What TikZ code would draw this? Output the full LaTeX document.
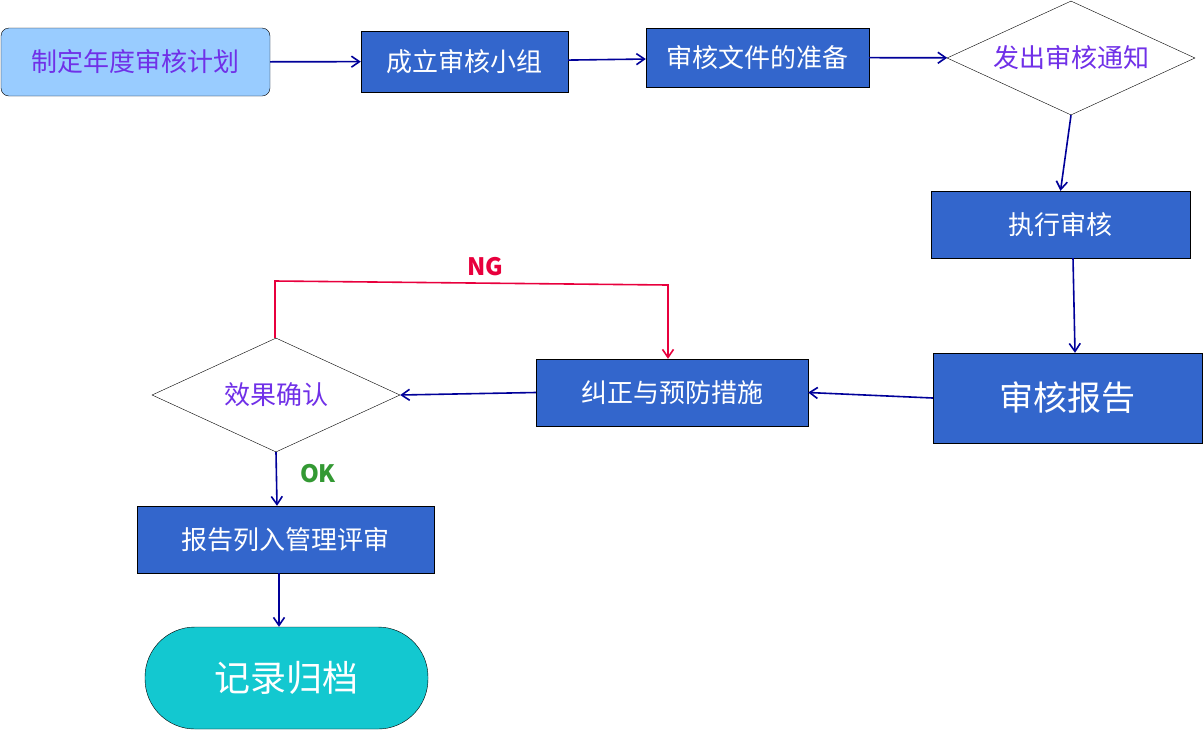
\documentclass[tikz,border=0pt]{standalone}
\usepackage{fontspec}
\setmainfont{Noto Sans CJK SC}
\usetikzlibrary{shapes.geometric,arrows.meta}
\definecolor{bbox}{HTML}{3366CC}
\definecolor{lblue}{HTML}{99CCFF}
\definecolor{purp}{HTML}{7030E8}
\definecolor{arr}{HTML}{000099}
\definecolor{ngred}{HTML}{E8003D}
\definecolor{okg}{HTML}{339933}
\definecolor{cyan2}{HTML}{13C8D0}
\begin{document}
\begin{tikzpicture}[x=1pt,y=-1pt,
 box/.style={draw=black,fill=bbox,text=white,inner sep=0,font=\fontsize{26}{30}\selectfont},
 dia/.style={diamond,draw=black,fill=white,aspect=2.17,inner sep=0,text=purp,font=\fontsize{26}{30}\selectfont},
 ar/.style={draw=arr,line width=1.6pt,-{Straight Barb[length=8pt,width=11pt]}}]
\useasboundingbox (0,0) rectangle (1204,732);
\node[draw=black,fill=lblue,rounded corners=8pt,text=purp,minimum width=269pt,minimum height=68pt,inner sep=0,font=\fontsize{26}{30}\selectfont] (a) at (135.5,62) {制定年度审核计划};
\node[box,minimum width=207pt,minimum height=61pt] (b) at (464.5,61.5) {成立审核小组};
\node[box,minimum width=223pt,minimum height=59pt] (c) at (757.5,57.5) {审核文件的准备};
\node[dia,minimum width=248pt,minimum height=114pt] (d) at (1071,58) {发出审核通知};
\node[box,minimum width=259pt,minimum height=67pt] (e) at (1060.5,224.5) {执行审核};
\node[box,minimum width=269pt,minimum height=90pt,font=\fontsize{34}{40}\selectfont] (f) at (1067.5,398) {审核报告};
\node[box,minimum width=272pt,minimum height=67pt] (g) at (672,392.5) {纠正与预防措施};
\node[dia,minimum width=248pt,minimum height=114pt] (h) at (276,395) {效果确认};
\node[box,minimum width=297pt,minimum height=67pt] (i) at (285.5,539.5) {报告列入管理评审};
\node[draw=black,fill=cyan2,text=white,rounded corners=50pt,minimum width=283pt,minimum height=102pt,inner sep=0,font=\fontsize{36}{42}\selectfont] (j) at (286.5,678) {记录归档};
\draw[ar] (a) -- (b);
\draw[ar] (b) -- (c);
\draw[ar] (c) -- (d);
\draw[ar] (d.south) -- (e.north);
\draw[ar] (e.south -| 1073,0) -- (f.north -| 1075,0);
\draw[ar] (f.west) -- (g.east);
\draw[ar] (g.west) -- (h.east);
\draw[ar] (h.south) -- (i.north -| 277,0);
\draw[ar] (i.south -| 279,0) -- (j.north -| 279,0);
\coordinate (n1) at (275,281);
\coordinate (n2) at (668,285);
\draw[draw=ngred,line width=1.6pt,-{Straight Barb[length=8pt,width=11pt]}] (h.north -| 275,0) -- (n1) -- (n2) -- (g.north -| 668,0);
\node[text=ngred,font=\fontsize{24}{28}\selectfont\bfseries] (ng) at (485,267) {NG};
\node[text=okg,font=\fontsize{24}{28}\selectfont\bfseries] (ok) at (318,474) {OK};
\end{tikzpicture}
\end{document}
